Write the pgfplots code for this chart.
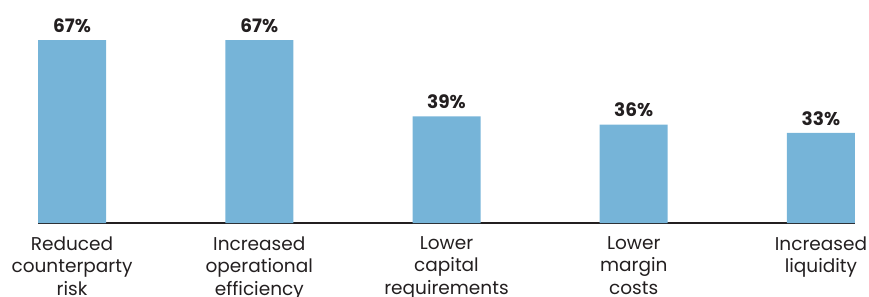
\documentclass[border=0pt]{standalone}
\usepackage{pgfplots}
\pgfplotsset{compat=1.18}
\usepackage{fontspec}
\setmainfont{Poppins}
\definecolor{barblue}{HTML}{76B4D8}
\definecolor{txt}{HTML}{231F20}
\begin{document}
\begin{tikzpicture}
\begin{axis}[
  name=ax, scale only axis, width=817bp, height=183bp,
  xmin=-0.18182, xmax=4.18182, ymin=0, ymax=67,
  clip=false,
  axis x line*=bottom, axis y line=none,
  x axis line style={-, color=txt, line width=1.2bp},
  xtick=data, major tick length=0pt, ytick=\empty,
  xticklabels={Reduced\\counterparty\\risk, Increased\\operational\\efficiency, Lower\\capital\\requirements, Lower\\margin\\costs, Increased\\liquidity},
  xticklabel style={align=center, text=txt, font=\fontsize{18.5bp}{22.5bp}\selectfont, yshift=-10bp},
  ybar, bar width=68bp, bar shift=0pt,
  nodes near coords={\pgfmathprintnumber[assume math mode=true]{\pgfplotspointmeta}\%},
  nodes near coords style={font=\fontsize{18.5bp}{22bp}\selectfont\bfseries, text=txt, anchor=south, yshift=4bp},
]
\addplot[fill=barblue, draw=none] coordinates {(0,67) (1,67) (2,39) (3,36) (4,33)};
\end{axis}
\pgfresetboundingbox
\path ([xshift=-38bp,yshift=-74bp]ax.south west) rectangle ([xshift=14bp,yshift=40bp]ax.north east);
\end{tikzpicture}
\end{document}
